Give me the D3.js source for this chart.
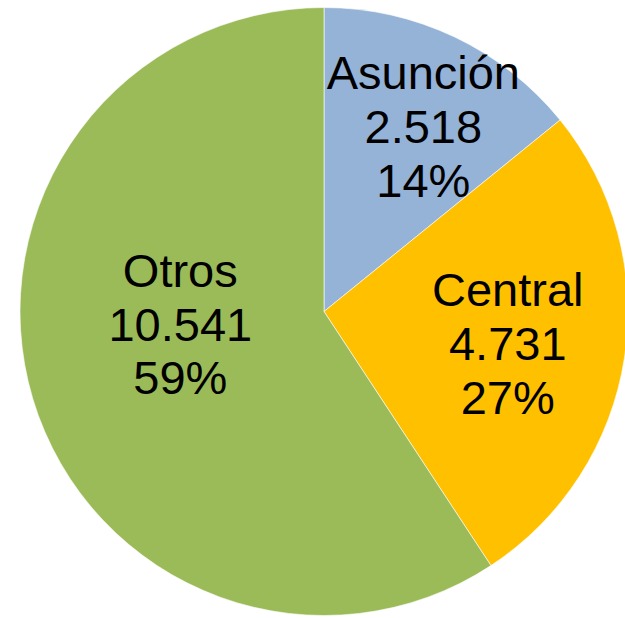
<!DOCTYPE html>
<html>
<head>
<meta charset="utf-8">
<script src="https://cdn.jsdelivr.net/npm/d3@7"></script>
<style>
html,body{margin:0;padding:0;background:#fff;overflow:hidden;}
svg{display:block;}
</style>
</head>
<body>
<svg id="chart" width="625" height="618"></svg>
<script>
const categories = ["Asunción", "Central", "Otros"];
const values = [2518, 4731, 10541];
const valueLabels = ["2.518", "4.731", "10.541"];
const percentLabels = ["14%", "27%", "59%"];
const colors = ["#95B3D7", "#FFC000", "#9BBB59"];

// layout (not data)
const cx = 324, cy = 311.5, R = 304;
const labelRadius = [210, 187, 150];
const labelNudge = [[9, 4], [-1, 3], [0, -31]];

const svg = d3.select("#chart");
const g = svg.append("g").attr("transform", `translate(${cx},${cy})`);

const pie = d3.pie().sort(null).value(d => d);
const arcs = pie(values);
const arc = d3.arc().innerRadius(0).outerRadius(R);

g.selectAll("path.slice")
  .data(arcs)
  .join("path")
  .attr("class", "slice")
  .attr("d", arc)
  .attr("fill", (d, i) => colors[i])
  .attr("stroke", "#ffffff")
  .attr("stroke-width", 0.6);

const lineH = 54;
arcs.forEach((d, i) => {
  const la = d3.arc().innerRadius(labelRadius[i]).outerRadius(labelRadius[i]);
  const [x, y] = la.centroid(d);
  const px = x + labelNudge[i][0], py = y + labelNudge[i][1];
  const t = g.append("text")
    .attr("x", px).attr("y", py)
    .attr("text-anchor", "middle")
    .attr("font-family", "'Liberation Sans', Arial, sans-serif")
    .attr("font-size", 47)
    .attr("fill", "#000");
  const lines = [categories[i], valueLabels[i], percentLabels[i]];
  lines.forEach((s, k) => {
    t.append("tspan")
      .attr("x", px)
      .attr("y", py + (k - 1) * lineH + 17)
      .text(s);
  });
});
</script>
</body>
</html>
